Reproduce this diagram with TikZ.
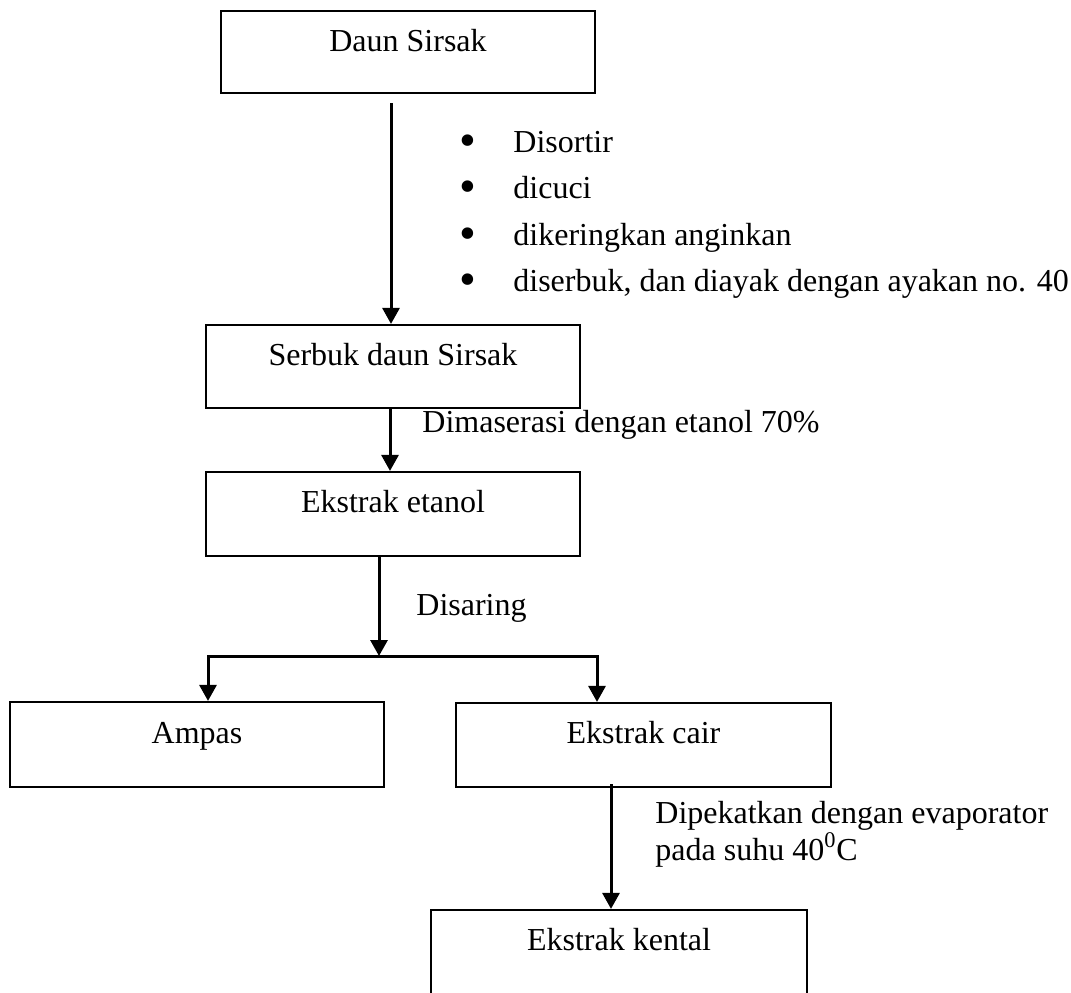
\documentclass[tikz,border=0pt]{standalone}
\usepackage{fontspec}
\setmainfont{Liberation Serif}
\usetikzlibrary{arrows.meta}
\begin{document}
\begin{tikzpicture}[x=0.5pt,y=-0.5pt,
  box/.style={draw, line width=1.1pt, minimum width=187pt, inner sep=0pt},
  txt/.style={font=\fontsize{16}{18.5}\selectfont, inner sep=0pt},
  dot/.style={font=\fontsize{24}{24}\selectfont, inner sep=0pt},
  arr/.style={line width=1.5pt, -{Triangle[length=8pt,width=8.5pt]}},
  arrtwo/.style={line width=1.5pt, {Triangle[length=8pt,width=8.5pt]}-{Triangle[length=8pt,width=8.5pt]}}]
\useasboundingbox (0,0) rectangle (1071,992);
\clip (0,0) rectangle (1071,992);
% boxes
\node[box, minimum height=41pt] (daun) at (408,52) {};
\node[box, minimum height=41.5pt] (serbuk) at (393,366.5) {};
\node[box, minimum height=42pt] (etanol) at (393,514) {};
\node[box, minimum height=42.5pt] (ampas) at (197,744.5) {};
\node[box, minimum height=42pt, minimum width=187.5pt] (cair) at (643.5,745) {};
\node[box, minimum height=42pt, minimum width=188pt] (kental) at (619,952) {};
% box texts
\node[txt, anchor=base] (tdaun) at (408,51) {Daun Sirsak};
\node[txt, anchor=base] (tserbuk) at (393,365) {Serbuk daun Sirsak};
\node[txt, anchor=base] (tetanol) at (393,512) {Ekstrak etanol};
\node[txt, anchor=base] (tampas) at (197,743) {Ampas};
\node[txt, anchor=base] (tcair) at (643.5,743) {Ekstrak cair};
\node[txt, anchor=base] (tkental) at (619,950) {Ekstrak kental};
% bullet list
\node[dot, anchor=base] (b1) at (468,156) {•};
\node[dot, anchor=base] (b2) at (468,202) {•};
\node[dot, anchor=base] (b3) at (468,249) {•};
\node[dot, anchor=base] (b4) at (468,295) {•};
\node[txt, anchor=base west] (l1) at (513,152) {Disortir};
\node[txt, anchor=base west] (l2) at (513,198) {dicuci};
\node[txt, anchor=base west] (l3) at (513,245) {dikeringkan anginkan};
\node[txt, anchor=base west] (l4) at (513,291) {diserbuk, dan diayak dengan ayakan no. 40};
% other labels
\node[txt, anchor=base west] (dim) at (422,432) {Dimaserasi dengan etanol 70\%};
\node[txt, anchor=base west] (dis) at (416,615) {Disaring};
\node[txt, anchor=base west] (dip1) at (655,823) {Dipekatkan dengan evaporator};
\node[txt, anchor=base west] (dip2) at (655,860) {pada suhu 40\textsuperscript{0}C};
% connectors
\draw[arr] ([shift={(-17,9)}]daun.south) -- ([xshift=-1pt]serbuk.north);
\draw[arr] ([xshift=-1.5pt]serbuk.south) -- ([xshift=-1.5pt]etanol.north);
\coordinate (split) at (379,656);
\coordinate (splitL) at (208,656);
\coordinate (splitR) at (597,656);
\draw[arr] (etanol.south -| split) -- (split);
\draw[arrtwo] (splitL |- ampas.north) -- (splitL) -- (splitR) -- (splitR |- cair.north);
\draw[arr] ([xshift=-16.25pt,yshift=2pt]cair.south) -- ([xshift=-16.25pt]cair.south |- kental.north);
\end{tikzpicture}
\end{document}
